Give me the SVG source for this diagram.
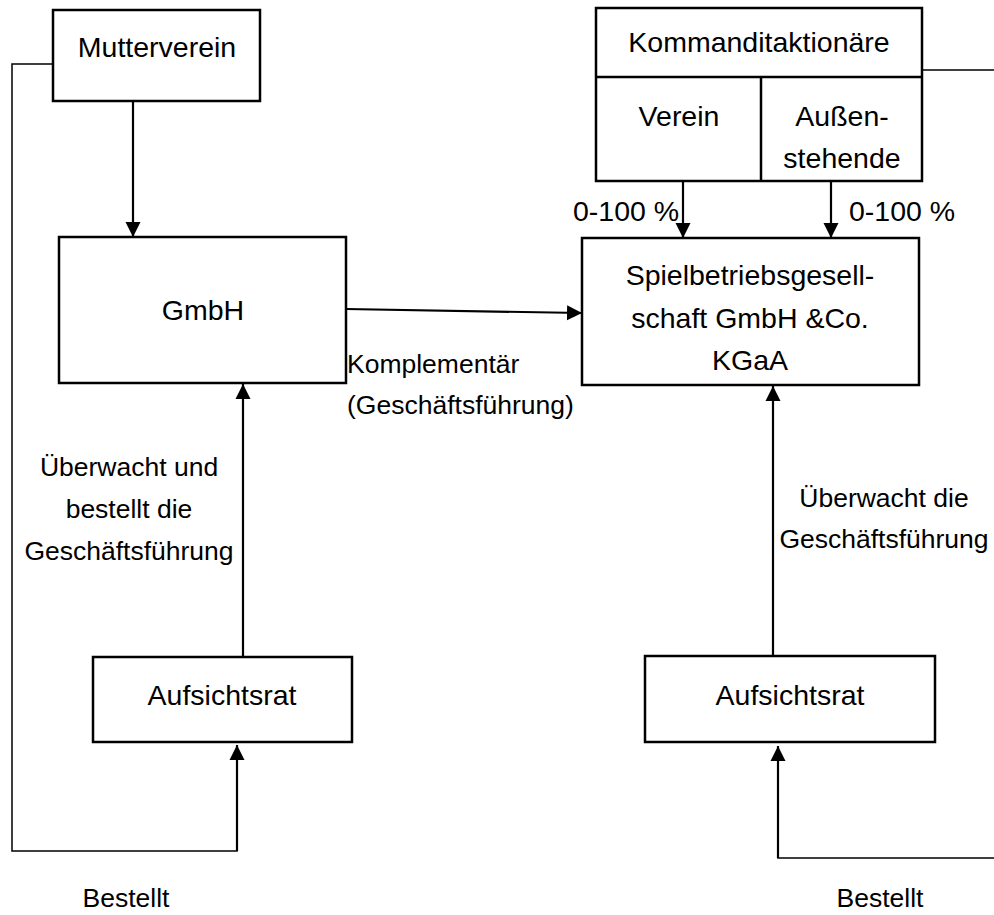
<svg xmlns="http://www.w3.org/2000/svg" width="994" height="915" viewBox="0 0 994 915">
<style>
.box{fill:#fff;stroke:#000;stroke-width:2.5}
.t{font-family:"Liberation Sans",Arial,sans-serif;font-size:28.5px;fill:#000}
.s{font-size:26.5px}
.c{text-anchor:middle}
.ln{fill:none;stroke:#000;stroke-width:2.2}
.thin{fill:none;stroke:#000;stroke-width:1.5}
</style>
<defs>
<marker id="ah" markerUnits="userSpaceOnUse" markerWidth="15" markerHeight="16" refX="15" refY="7.5" orient="auto" viewBox="0 0 15 15">
<path d="M0,0 L15,7.5 L0,15 Z" fill="#000"/>
</marker>
</defs>
<rect width="994" height="915" fill="#fff"/>
<g id="connectors">
<polyline class="thin" points="53,64 12,64 12,851 237,851 237,760" />
<line class="ln" x1="237" y1="851" x2="237" y2="745" marker-end="url(#ah)"/>
<line class="ln" x1="133" y1="101" x2="133" y2="237" marker-end="url(#ah)"/>
<line class="ln" x1="346" y1="309" x2="582" y2="313" marker-end="url(#ah)"/>
<line class="ln" x1="243" y1="657" x2="243" y2="384" marker-end="url(#ah)"/>
<line class="ln" x1="773" y1="656" x2="773" y2="386" marker-end="url(#ah)"/>
<line class="ln" x1="683" y1="181" x2="683" y2="238" marker-end="url(#ah)"/>
<line class="ln" x1="831" y1="181" x2="831" y2="238" marker-end="url(#ah)"/>
<line class="thin" x1="922" y1="70" x2="994" y2="70"/>
<polyline class="thin" points="994,858 778,858 778,800"/>
<line class="ln" x1="778" y1="858" x2="778" y2="746" marker-end="url(#ah)"/>
</g>
<g id="mutterverein">
<rect class="box" x="53" y="10" width="207" height="91"/>
<text class="t c" x="157" y="57">Mutterverein</text>
</g>
<g id="gmbh">
<rect class="box" x="59" y="237" width="287" height="146"/>
<text class="t c" x="203" y="320">GmbH</text>
</g>
<g id="kommanditaktionaere">
<rect class="box" x="596" y="8" width="326" height="173"/>
<line class="box" x1="596" y1="77" x2="922" y2="77"/>
<line class="box" x1="761" y1="77" x2="761" y2="181"/>
<text class="t c" x="759" y="52">Kommanditaktionäre</text>
<text class="t c" x="679" y="126">Verein</text>
<text class="t c" x="842" y="126">Außen-</text>
<text class="t c" x="842" y="168">stehende</text>
</g>
<g id="spielbetrieb">
<rect class="box" x="582" y="238" width="337" height="147"/>
<text class="t c" x="750" y="285">Spielbetriebsgesell-</text>
<text class="t c" x="750" y="328">schaft GmbH &amp;Co.</text>
<text class="t c" x="750" y="370">KGaA</text>
</g>
<g id="aufsichtsrat-links">
<rect class="box" x="93" y="657" width="259" height="85"/>
<text class="t c" x="222" y="705">Aufsichtsrat</text>
</g>
<g id="aufsichtsrat-rechts">
<rect class="box" x="645" y="656" width="290" height="86"/>
<text class="t c" x="790" y="705">Aufsichtsrat</text>
</g>
<g id="labels">
<text class="t" x="573" y="221">0-100 %</text>
<text class="t" x="849" y="221">0-100 %</text>
<text class="t s" x="347" y="373">Komplementär</text>
<text class="t s" x="347" y="414">(Geschäftsführung)</text>
<text class="t s c" x="129" y="476">Überwacht und</text>
<text class="t s c" x="129" y="518">bestellt die</text>
<text class="t s c" x="129" y="560">Geschäftsführung</text>
<text class="t s c" x="884" y="507">Überwacht die</text>
<text class="t s c" x="884" y="548">Geschäftsführung</text>
<text class="t s c" x="126" y="907">Bestellt</text>
<text class="t s c" x="880" y="907">Bestellt</text>
</g>
</svg>
